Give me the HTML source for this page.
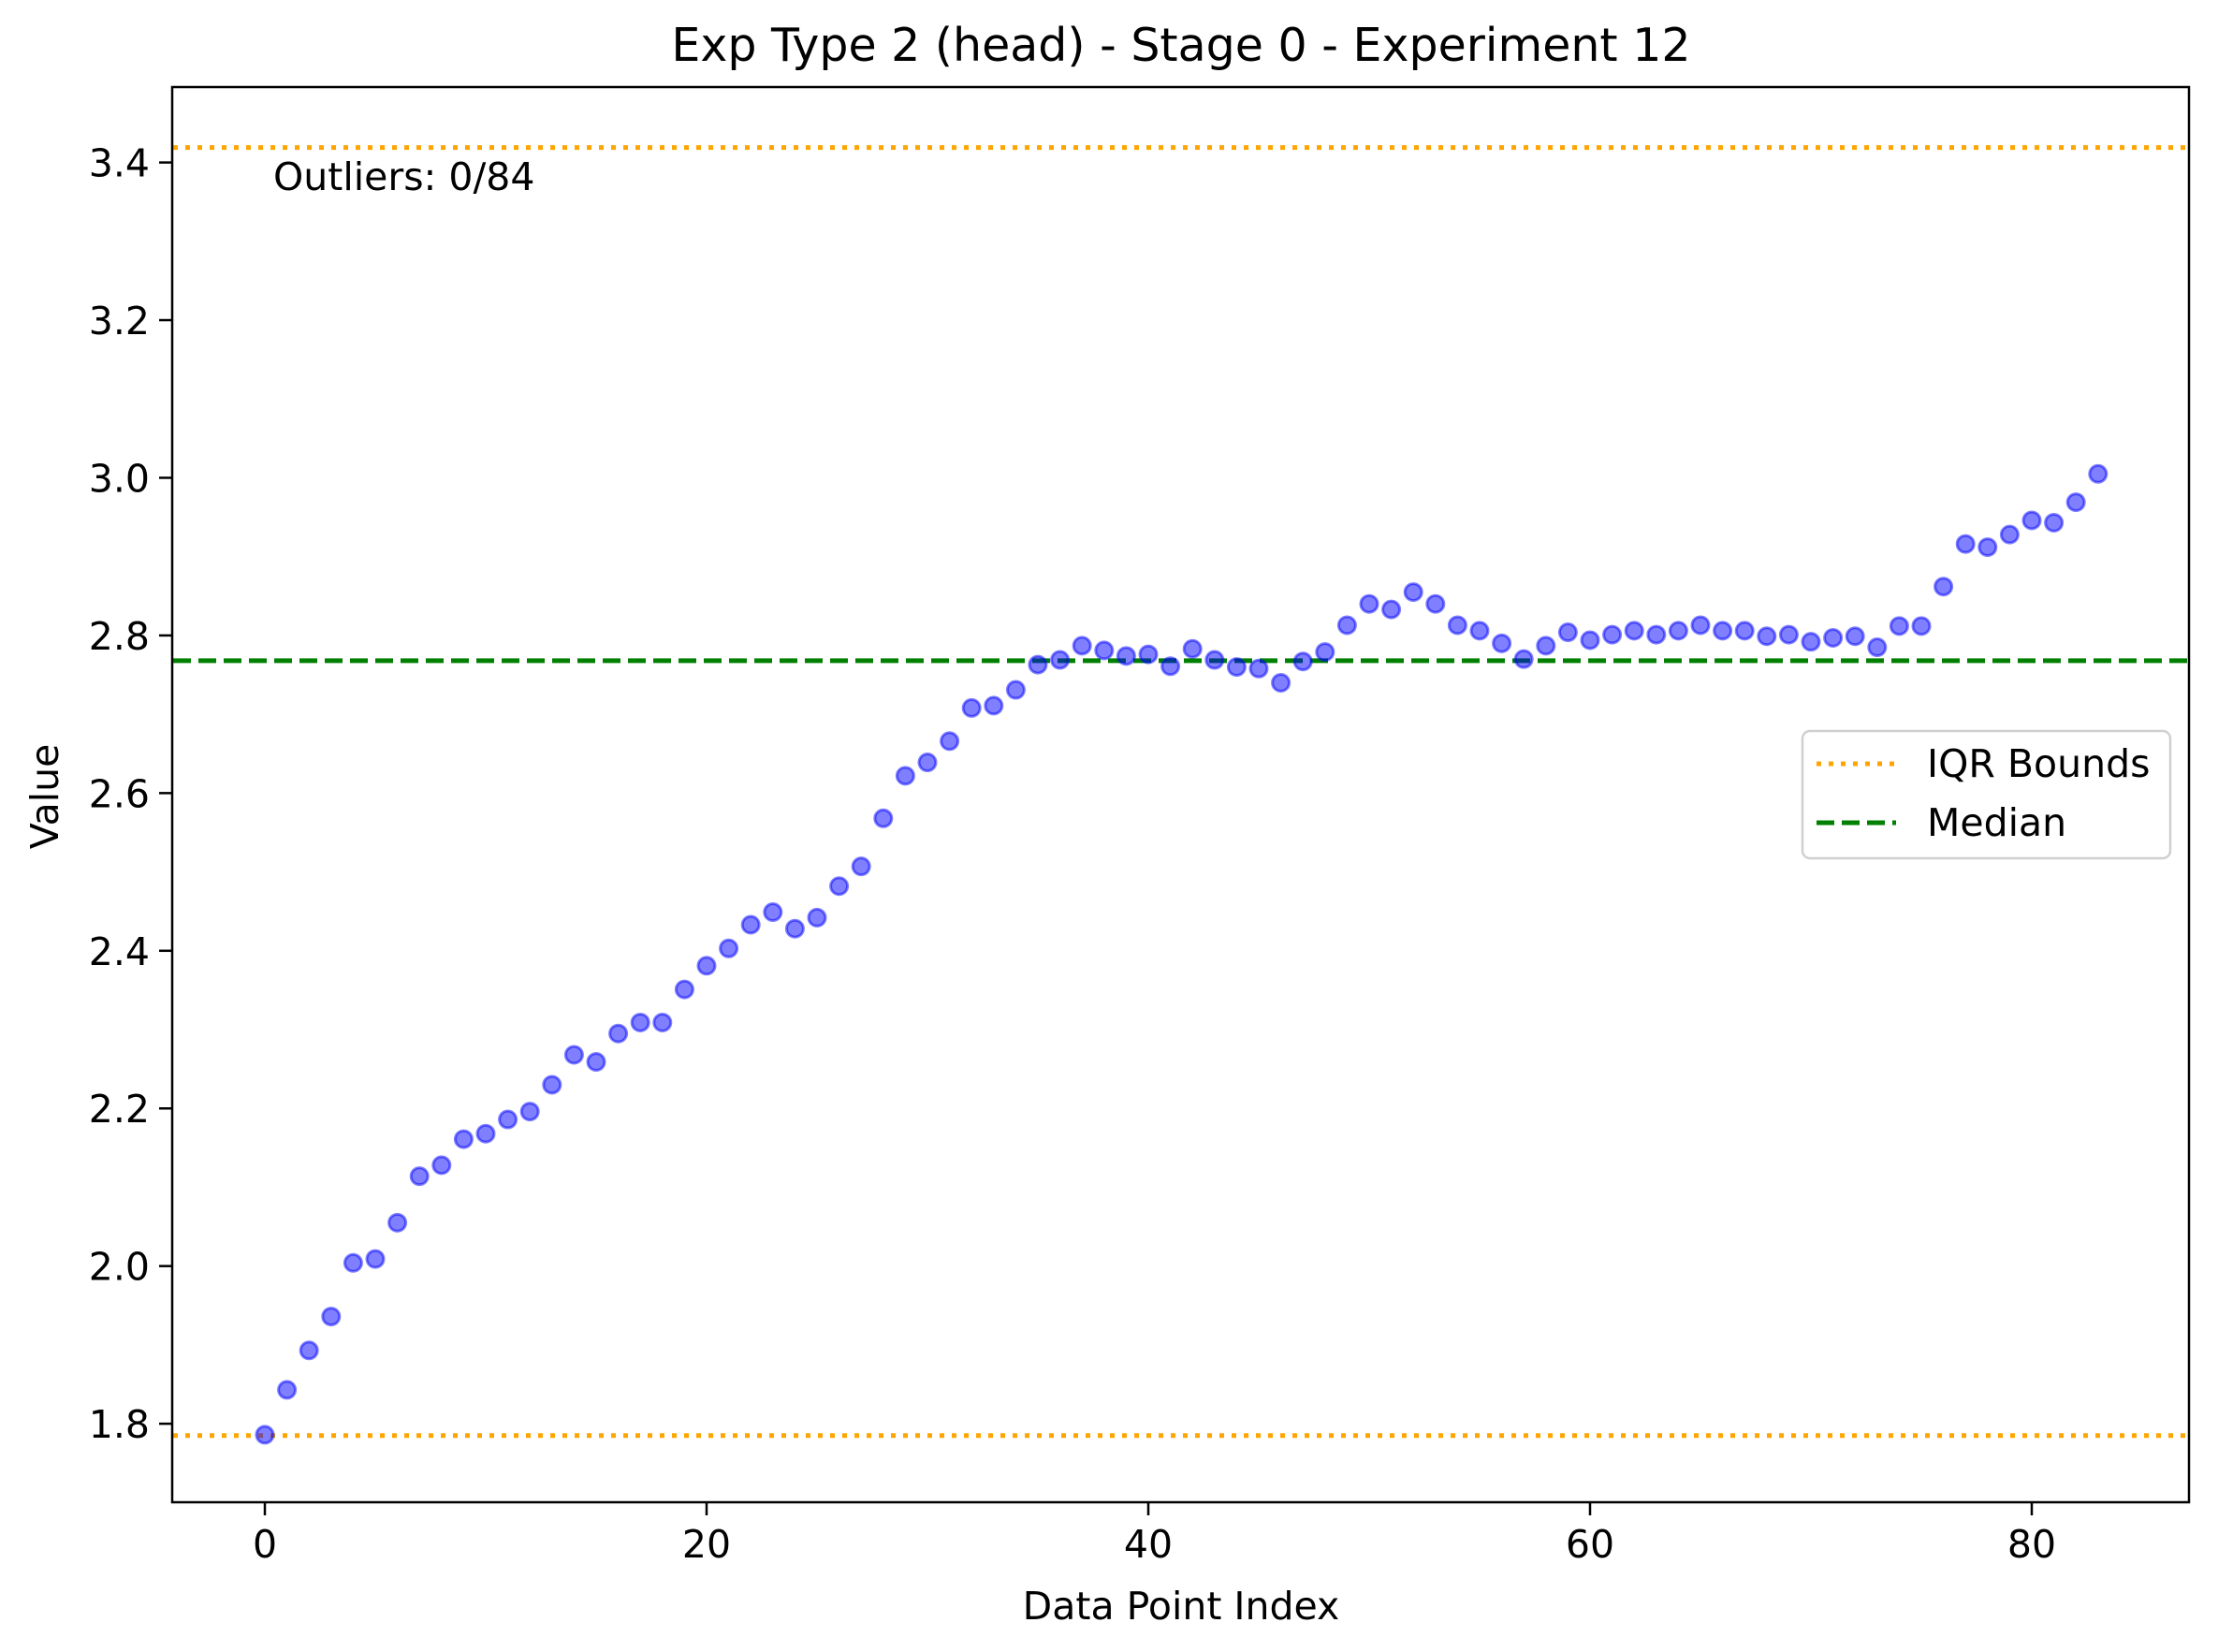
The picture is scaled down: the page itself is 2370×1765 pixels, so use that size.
<!DOCTYPE html>
<html><head><meta charset="utf-8"><style>
html,body{margin:0;padding:0;background:#fff;}
svg{display:block;font-family:"DejaVu Sans","Liberation Sans",sans-serif;}
</style></head><body>
<svg id="chart" width="2370" height="1765" viewBox="0 0 2370 1765">
<rect width="2370" height="1765" fill="#fff"/>
<text x="1262" y="65" font-size="49" text-anchor="middle">Exp Type 2 (head) - Stage 0 - Experiment 12</text>
<g id="ticks"></g>
<g id="lines"></g>
<g id="points"></g>
<rect x="184" y="93" width="2155" height="1512" fill="none" stroke="#000" stroke-width="2.5"/>
<text x="292" y="203" font-size="41">Outliers: 0/84</text>
<text x="1262" y="1730" font-size="41" text-anchor="middle">Data Point Index</text>
<text transform="translate(62,851) rotate(-90)" font-size="41" text-anchor="middle">Value</text>
<g transform="translate(-9,-4)">
<rect x="1935" y="785" width="393" height="136" rx="8" fill="#fff" fill-opacity="0.8" stroke="#d0d0d0" stroke-width="2.5"/>
<line x1="1950" y1="820" x2="2035" y2="820" stroke="orange" stroke-width="5" stroke-dasharray="5,8"/>
<text x="2068" y="834" font-size="41">IQR Bounds</text>
<line x1="1950" y1="883" x2="2035" y2="883" stroke="green" stroke-width="5" stroke-dasharray="19,8"/>
<text x="2068" y="897" font-size="41">Median</text>
</g>
</svg>
<script>
const values = [1.786,1.843,1.893,1.936,2.004,2.009,2.055,2.114,2.128,2.161,2.168,2.186,2.196,2.230,2.268,2.259,2.295,2.309,2.309,2.351,2.381,2.403,2.433,2.449,2.428,2.442,2.482,2.507,2.568,2.622,2.639,2.666,2.708,2.711,2.731,2.763,2.769,2.787,2.781,2.774,2.776,2.761,2.783,2.769,2.760,2.758,2.740,2.767,2.779,2.813,2.840,2.833,2.855,2.840,2.813,2.806,2.790,2.770,2.787,2.804,2.794,2.801,2.806,2.801,2.806,2.813,2.806,2.806,2.799,2.801,2.792,2.797,2.799,2.785,2.812,2.812,2.862,2.916,2.912,2.928,2.946,2.943,2.969,3.005];
const xTicks = [0,20,40,60,80];
const yTicks = [1.8,2.0,2.2,2.4,2.6,2.8,3.0,3.2,3.4];
const yTickLabels = ["1.8","2.0","2.2","2.4","2.6","2.8","3.0","3.2","3.4"];
const medianValue = 2.768;
const iqrBounds = [1.785, 3.419];

const NS = "http://www.w3.org/2000/svg";
function xs(v){ return 283 + v * 23.6; }
function ys(v){ return 173.6 + (3.4 - v) * 842.2; }
function mk(tag, attrs, parent){ const e=document.createElementNS(NS,tag); for(const k in attrs) e.setAttribute(k, attrs[k]); parent.appendChild(e); return e; }

const tg = document.getElementById('ticks');
xTicks.forEach(t=>{
  const l = mk('line',{x1:xs(t),x2:xs(t),y1:1605,y2:1619,stroke:'#000','stroke-width':2.5},tg);
  
  
  const tx = mk('text',{x:xs(t),y:1664,'font-size':41,'text-anchor':'middle'},tg);
  tx.textContent = String(t);
  
  
});
yTicks.forEach((t,i)=>{
  const l = mk('line',{x1:170,x2:184,y1:ys(t),y2:ys(t),stroke:'#000','stroke-width':2.5},tg);
  
  
  const tx = mk('text',{x:160,y:ys(t)+15,'font-size':41,'text-anchor':'end'},tg);
  tx.textContent = yTickLabels[i];
  
  
});

const lg = document.getElementById('lines');
iqrBounds.forEach(b=>{
  const l = mk('line',{x1:185,x2:2338,y1:ys(b),y2:ys(b),stroke:'orange','stroke-width':5,'stroke-dasharray':'5,8'},lg);
  
  
});
const ml = mk('line',{x1:185,x2:2338,y1:ys(medianValue),y2:ys(medianValue),stroke:'green','stroke-width':5,'stroke-dasharray':'19,8'},lg);



const pg = document.getElementById('points');
values.forEach((v,i)=>{
  const c = mk('circle',{cx:xs(i),cy:ys(v),r:9,fill:'rgba(0,0,255,0.5)',stroke:'rgba(0,0,255,0.5)','stroke-width':3},pg);
  
  
});
</script>
</body></html>
